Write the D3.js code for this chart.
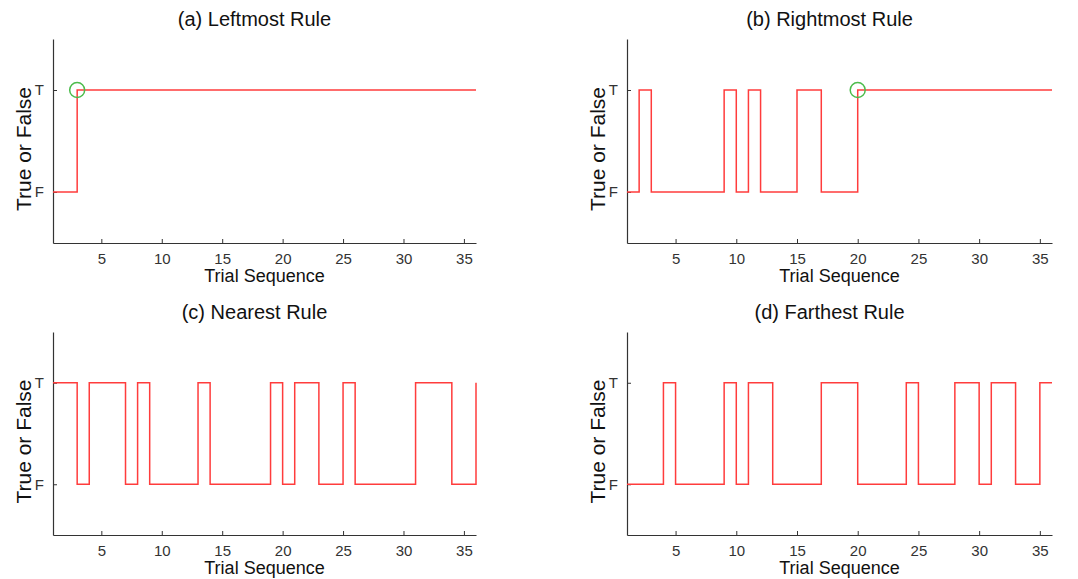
<!DOCTYPE html>
<html>
<head>
<meta charset="utf-8">
<script src="https://cdnjs.cloudflare.com/ajax/libs/d3/7.8.5/d3.min.js"></script>
<style>
  body { margin: 0; background: #fff; }
  svg { display: block; font-family: "Liberation Sans", Arial, sans-serif; }
  .axis path, .axis line { stroke: #333; }
  .axis text { fill: #333; font-size: 15px; }
</style>
</head>
<body>
<div id="chart"></div>
<script>
// trial index 1..36, 1 = T, 0 = F
const trials = d3.range(1, 37);
const leftmost  = [0,0,1,1,1,1,1,1,1,1,1,1,1,1,1,1,1,1,1,1,1,1,1,1,1,1,1,1,1,1,1,1,1,1,1,1];
const rightmost = [0,1,0,0,0,0,0,0,1,0,1,0,0,0,1,1,0,0,0,1,1,1,1,1,1,1,1,1,1,1,1,1,1,1,1,1];
const nearest   = [1,1,0,1,1,1,0,1,0,0,0,0,1,0,0,0,0,0,1,0,1,1,0,0,1,0,0,0,0,0,1,1,1,0,0,1];
const farthest  = [0,0,0,1,0,0,0,0,1,0,1,1,0,0,0,0,1,1,1,0,0,0,0,1,0,0,0,1,1,0,1,1,0,0,1,1];
const titles = ['(a) Leftmost Rule', '(b) Rightmost Rule', '(c) Nearest Rule', '(d) Farthest Rule'];
const series = [leftmost, rightmost, nearest, farthest];
const switchPoint = [3, 20, null, null]; // green circle marker
const xTicks = [5, 10, 15, 20, 25, 30, 35];
const yTickLabels = ['F', 'T'];

const W = 1078, H = 579;
const svg = d3.select('#chart').append('svg').attr('width', W).attr('height', H);

const boxes = [
  { left: 53, right: 476, top: 39, bottom: 243 },
  { left: 627, right: 1052, top: 39, bottom: 243 },
  { left: 53, right: 476, top: 332, bottom: 535 },
  { left: 627, right: 1052, top: 332, bottom: 535 }
];

series.forEach((vals, i) => {
  const b = boxes[i];
  const x = d3.scaleLinear().domain([1, 36]).range([b.left, b.right]);
  const y = d3.scaleLinear().domain([-0.5, 1.5]).range([b.bottom, b.top]);
  const g = svg.append('g');

  const xAxis = g.append('g')
    .attr('class', 'axis')
    .attr('transform', `translate(0,${b.bottom})`)
    .call(d3.axisBottom(x).tickValues(xTicks).tickSizeInner(-4).tickSizeOuter(0).tickPadding(10));
  xAxis.select('.domain').attr('stroke-width', 1.2);

  const yAxis = g.append('g')
    .attr('class', 'axis')
    .attr('transform', `translate(${b.left},0)`)
    .call(d3.axisLeft(y).tickValues([0, 1]).tickFormat(d => yTickLabels[d])
      .tickSizeInner(-4).tickSizeOuter(0).tickPadding(9));
  yAxis.select('.domain').attr('stroke-width', 1.2);

  const line = d3.line()
    .x((d, j) => x(trials[j]))
    .y(d => y(d))
    .curve(d3.curveStepAfter);

  g.append('path')
    .datum(vals)
    .attr('fill', 'none')
    .attr('stroke', '#ff3c3c')
    .attr('stroke-width', 1.5)
    .attr('d', line);

  if (switchPoint[i] !== null) {
    g.append('circle')
      .attr('cx', x(switchPoint[i]))
      .attr('cy', y(1))
      .attr('r', 7.5)
      .attr('fill', 'none')
      .attr('stroke', '#4cbc4c')
      .attr('stroke-width', 1.5);
  }

  const cx = (b.left + b.right) / 2;
  g.append('text')
    .attr('x', cx - 10)
    .attr('y', b.top - 13)
    .attr('text-anchor', 'middle')
    .attr('font-size', 20)
    .attr('fill', '#111')
    .text(titles[i]);

  g.append('text')
    .attr('x', cx)
    .attr('y', b.bottom + 39)
    .attr('text-anchor', 'middle')
    .attr('font-size', 18)
    .attr('fill', '#111')
    .text('Trial Sequence');

  g.append('text')
    .attr('transform', `translate(${b.left - 22},${(b.top + b.bottom) / 2 + 8}) rotate(-90)`)
    .attr('text-anchor', 'middle')
    .attr('font-size', 21)
    .attr('fill', '#111')
    .text('True or False');
});
</script>
</body>
</html>
